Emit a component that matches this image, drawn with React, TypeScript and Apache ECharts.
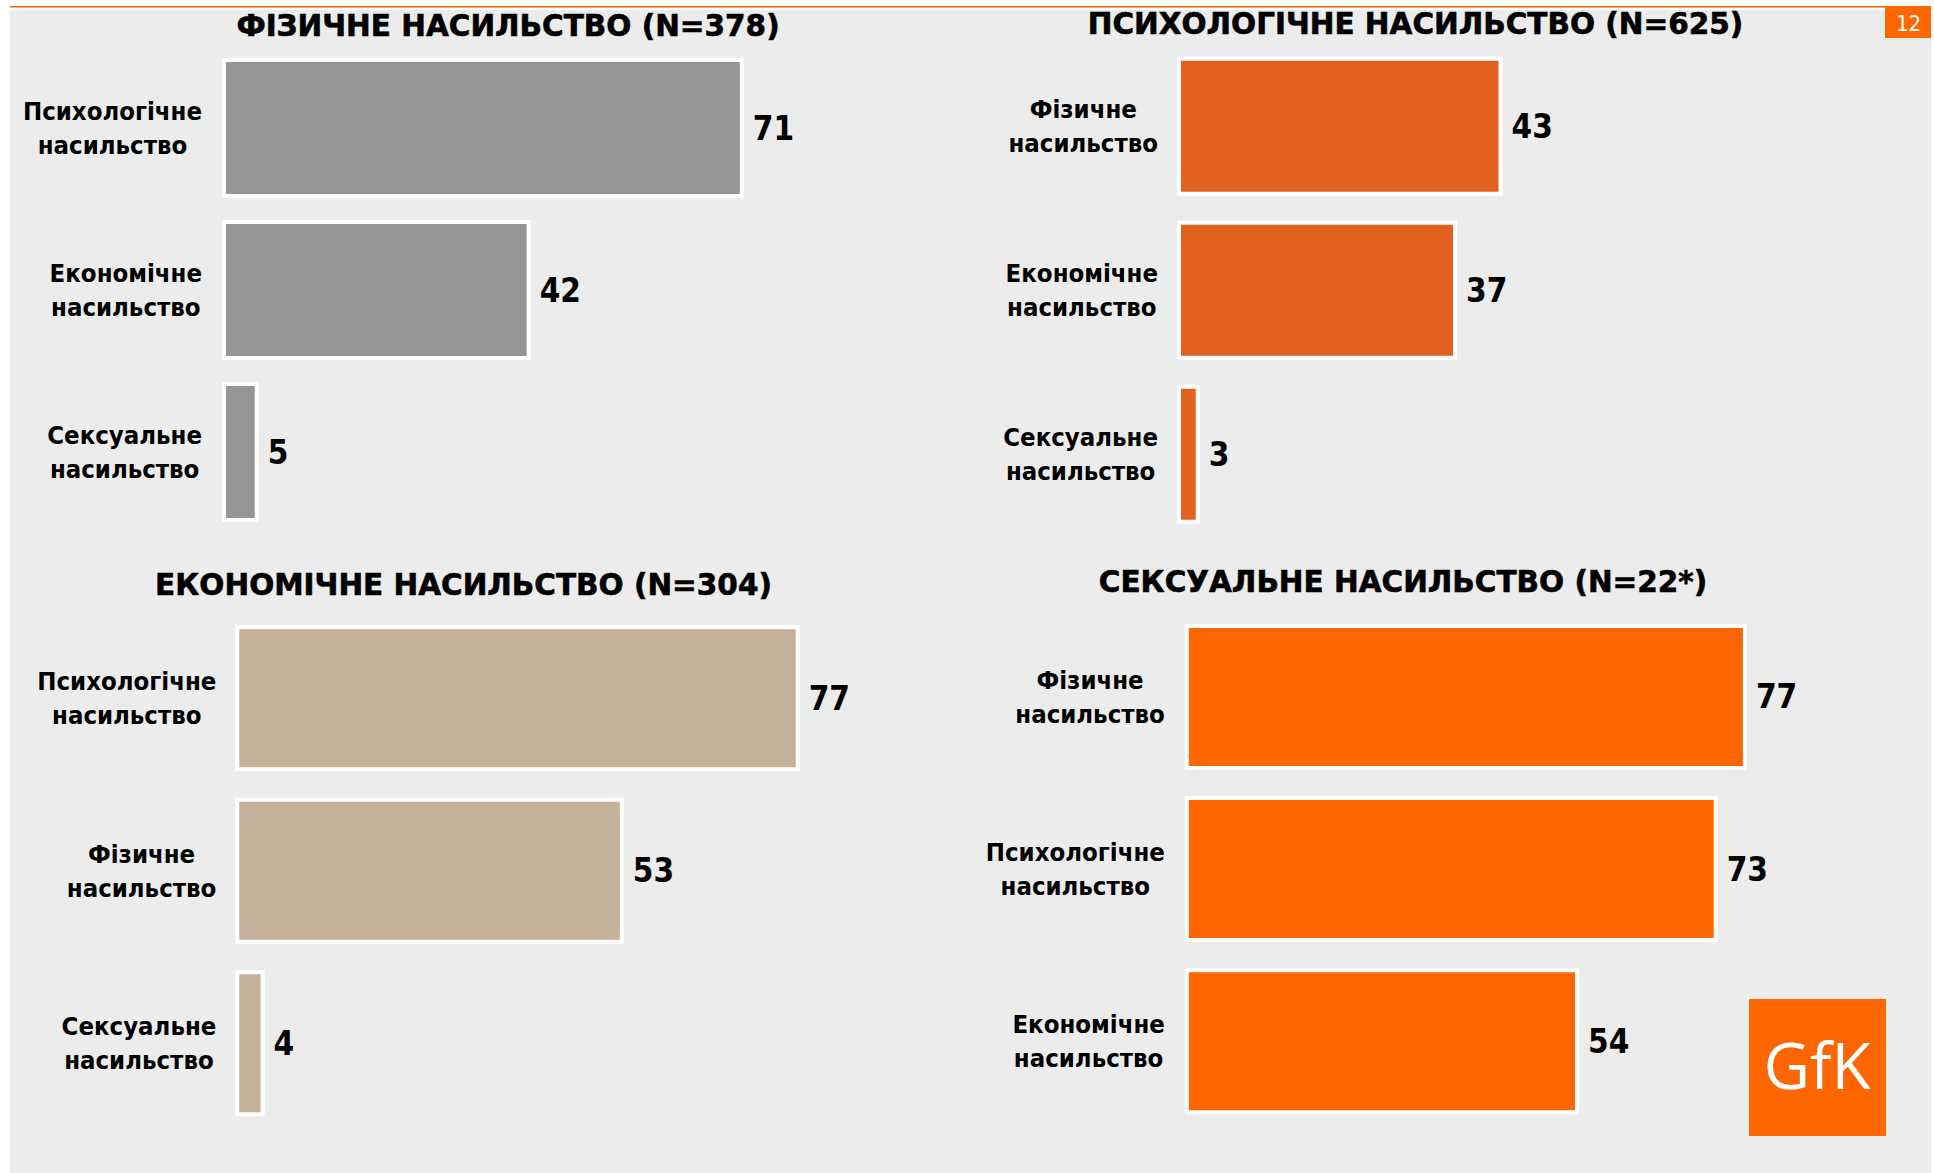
import React, { useEffect, useRef } from 'react';
import * as echarts from 'echarts';

// ---------- data ----------
const titles = [
  'ФІЗИЧНЕ НАСИЛЬСТВО (N=378)',
  'ПСИХОЛОГІЧНЕ НАСИЛЬСТВО (N=625)',
  'ЕКОНОМІЧНЕ НАСИЛЬСТВО (N=304)',
  'СЕКСУАЛЬНЕ НАСИЛЬСТВО (N=22*)',
];
const physicalCats = ['Психологічне насильство', 'Економічне насильство', 'Сексуальне насильство'];
const physicalVals = [71, 42, 5];
const psychCats = ['Фізичне насильство', 'Економічне насильство', 'Сексуальне насильство'];
const psychVals = [43, 37, 3];
const econCats = ['Психологічне насильство', 'Фізичне насильство', 'Сексуальне насильство'];
const econVals = [77, 53, 4];
const sexCats = ['Фізичне насильство', 'Психологічне насильство', 'Економічне насильство'];
const sexVals = [77, 73, 54];
const pageNumber = '12';
const logoText = 'GfK';

// ---------- styles ----------
const LABEL_FONT = "'DejaVu Sans Condensed', 'Liberation Sans', sans-serif";
const TITLE_FONT = "'DejaVu Sans', sans-serif";
const ORANGE = '#FF6600';

const panels = [
  { cats: physicalCats, vals: physicalVals, color: '#959595', left: 222, top: 47, width: 735, height: 486, barWidth: 140, margin: 20, tx: 508, ty: 25.5 },
  { cats: psychCats, vals: psychVals, color: '#E2611F', left: 1177, top: 44.2, width: 760, height: 492, barWidth: 139, margin: 19, tx: 1415.5, ty: 23.5 },
  { cats: econCats, vals: econVals, color: '#C4B19A', left: 235.3, top: 612, width: 733, height: 517.5, barWidth: 146, margin: 19, tx: 463.5, ty: 585.3 },
  { cats: sexCats, vals: sexVals, color: ORANGE, left: 1184.8, top: 610.8, width: 730, height: 516.6, barWidth: 146, margin: 20, tx: 1403, ty: 581.5 },
];

export default function App() {
  const ref = useRef<HTMLDivElement>(null);

  useEffect(() => {
    if (!ref.current) return;
    const chart = echarts.init(ref.current, undefined, { renderer: 'svg' });

    const grid = panels.map((p) => ({ left: p.left, top: p.top, width: p.width, height: p.height, containLabel: false }));
    const xAxis = panels.map((_, i) => ({
      type: 'value', gridIndex: i, min: 0, max: 100, show: false,
    }));
    const yAxis = panels.map((p, i) => ({
      type: 'category', gridIndex: i, inverse: true, data: p.cats,
      axisLine: { show: false }, axisTick: { show: false }, splitLine: { show: false },
      axisLabel: {
        margin: p.margin,
        align: 'right',
        formatter: (v: string) => v.split(' ').map((s) => `{c|${s}}`).join('\n'),
        rich: {
          c: {
            align: 'center', fontSize: 25.5, lineHeight: 34, fontWeight: 'bold',
            fontFamily: LABEL_FONT, color: '#000',
          },
        },
      },
    }));
    const series = panels.map((p, i) => ({
      type: 'bar', xAxisIndex: i, yAxisIndex: i, data: p.vals, barWidth: p.barWidth,
      itemStyle: { color: p.color, borderColor: '#FFFFFF', borderWidth: 4 },
      label: {
        show: true, position: 'right', distance: 9, formatter: '{c}',
        fontSize: 33, fontWeight: 'bold', fontFamily: LABEL_FONT, color: '#000',
      },
      silent: true,
    }));

    const graphic: any[] = [
      { type: 'rect', z: -10, shape: { x: 10, y: 10, width: 1921, height: 1163 }, style: { fill: '#EBECEB' } },
      { type: 'rect', z: -10, shape: { x: 10, y: 6, width: 1921, height: 1.5 }, style: { fill: ORANGE } },
      { type: 'rect', z: -10, shape: { x: 1885, y: 7, width: 46, height: 31 }, style: { fill: ORANGE } },
      {
        type: 'text', x: 1908.5, y: 23, z: 10,
        style: { text: pageNumber, fill: '#FFFFFF', fontSize: 22, fontFamily: LABEL_FONT, align: 'center', verticalAlign: 'middle' },
      },
      { type: 'rect', z: -10, shape: { x: 1749, y: 999, width: 137, height: 137 }, style: { fill: ORANGE } },
      {
        type: 'text', x: 1817, y: 1064.5, z: 10,
        style: { text: logoText, fill: '#FFFFFF', fontSize: 64, fontFamily: "'Open Sans', sans-serif", align: 'center', verticalAlign: 'middle' },
      },
      ...panels.map((p, i) => ({
        type: 'text', x: p.tx, y: p.ty, z: 10,
        style: {
          text: titles[i], fill: '#000', fontSize: 29.5, fontWeight: 'bold', fontFamily: TITLE_FONT,
          align: 'center', verticalAlign: 'middle', stroke: '#000', lineWidth: 0.6,
        },
      })),
    ];

    chart.setOption({
      animation: false,
      backgroundColor: '#FFFFFF',
      grid, xAxis, yAxis, series, graphic,
    });

    return () => chart.dispose();
  }, []);

  return <div ref={ref} style={{ position: 'absolute', left: 0, top: 0, width: 1934, height: 1173 }} />;
}
